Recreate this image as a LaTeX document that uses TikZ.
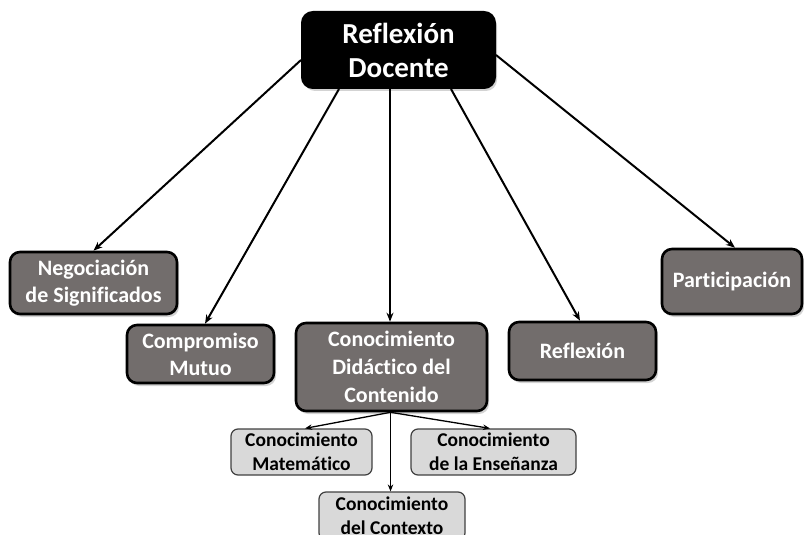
\documentclass[tikz,border=0pt]{standalone}
\usepackage{fontspec}
\setmainfont[Ligatures=NoCommon]{Carlito}
\usetikzlibrary{arrows.meta,shadows}
\definecolor{boxgray}{RGB}{114,109,108}
\definecolor{lightbox}{RGB}{217,217,217}
\definecolor{thinedge}{RGB}{64,64,64}
\tikzset{
  rootbox/.style={draw=black,fill=black,line width=2pt,rounded corners=11pt,
    text=white,font=\bfseries\fontsize{29}{34}\selectfont,align=center,inner sep=0pt,
    drop shadow={shadow xshift=2pt,shadow yshift=-3pt,opacity=0.35}},
  mainbox/.style={draw=black,fill=boxgray,line width=2.6pt,rounded corners=10pt,
    text=white,font=\bfseries\fontsize{22}{27}\selectfont,align=center,inner sep=0pt,
    drop shadow={shadow xshift=2pt,shadow yshift=-3pt,opacity=0.35}},
  subbox/.style={draw=thinedge,fill=lightbox,line width=1.2pt,rounded corners=7pt,
    text=black,font=\bfseries\fontsize{19.5}{24}\selectfont,align=center,inner sep=0pt},
  link/.style={line width=2pt,-{Stealth[length=9pt,width=7pt]}},
  sublink/.style={line width=1.3pt,-{Stealth[length=7pt,width=5.5pt]}}
}
\begin{document}
\begin{tikzpicture}[x=1pt,y=1pt]
  \useasboundingbox (0,0) rectangle (804,-535);
  \clip (0,0) rectangle (804,-535);

  % root of the map
  \node[rootbox,minimum width=193pt,minimum height=76pt] (top) at (398.5,-50) {Reflexión\\Docente};

  % first level
  \node[mainbox,minimum width=167pt,minimum height=62pt] (neg) at (93.5,-283) {Negociación\\de Significados};
  \node[mainbox,minimum width=147pt,minimum height=58pt] (comp) at (200.5,-354) {Compromiso\\Mutuo};
  \node[mainbox,minimum width=191pt,minimum height=88pt,font=\bfseries\fontsize{22}{28}\selectfont] (cdc) at (391.5,-367) {Conocimiento\\Didáctico del\\Contenido};
  \node[mainbox,minimum width=147pt,minimum height=58pt] (refl) at (582.5,-351) {Reflexión};
  \node[mainbox,minimum width=140pt,minimum height=65pt] (part) at (732,-281.5) {Participación};

  % second level
  \node[subbox,minimum width=141pt,minimum height=46pt] (mat) at (301.5,-452) {Conocimiento\\Matemático};
  \node[subbox,minimum width=165pt,minimum height=46pt] (ens) at (493.5,-452) {Conocimiento\\de la Enseñanza};
  \node[subbox,minimum width=146pt,minimum height=48pt] (ctx) at (392,-516) {Conocimiento\\del Contexto};

  % connectors from the root
  \draw[link] ([yshift=-10pt]top.west) -- (neg.north);
  \draw[link] ([xshift=38pt]top.south west) -- ([xshift=4.5pt]comp.north);
  \draw[link] ([xshift=-8.5pt]top.south) -- ([xshift=-1.5pt]cdc.north);
  \draw[link] ([xshift=-45pt]top.south east) -- ([xshift=-2.5pt]refl.north);
  \draw[link] ([yshift=-5pt]top.east) -- ([xshift=3pt]part.north);

  % connectors to the components of the didactic knowledge
  \draw[sublink] ([xshift=-1pt]cdc.south) -- ([xshift=3.5pt]mat.north);
  \draw[sublink] ([xshift=-1pt]cdc.south) -- ([xshift=-3.5pt]ens.north);
  \draw[sublink] ([xshift=-1pt]cdc.south) -- ([xshift=-1.5pt]ctx.north);
\end{tikzpicture}
\end{document}
